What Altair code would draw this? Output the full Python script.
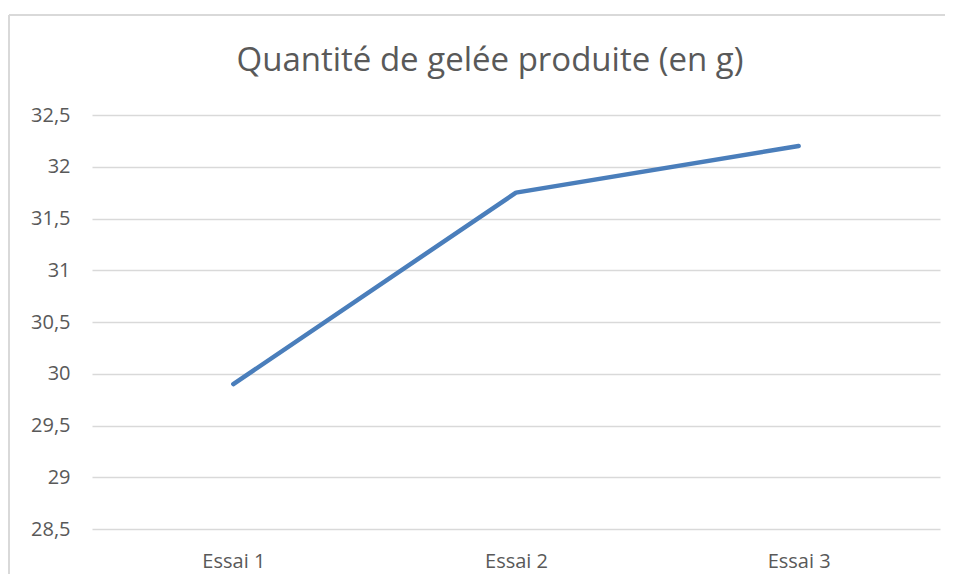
import altair as alt
import pandas as pd

essais = ["Essai 1", "Essai 2", "Essai 3"]
quantites = [29.9, 31.75, 32.2]
y_ticks = [28.5, 29, 29.5, 30, 30.5, 31, 31.5, 32, 32.5]
titre = "Quantité de gelée produite (en g)"

df = pd.DataFrame({"essai": essais, "quantite": quantites})
df_titre = pd.DataFrame({"t": [titre]})

W, H = 848, 414
FONT = "Open Sans"
GREY = "#595959"

line = alt.Chart(df).mark_line(
    color="#4a7ebb", strokeWidth=4.5, strokeCap="round", strokeJoin="round"
).encode(
    x=alt.X("essai:N", sort=essais, title=None,
            scale=alt.Scale(type="point", padding=0.5),
            axis=alt.Axis(labelAngle=0, ticks=False, domain=False, grid=False,
                          labelPadding=22, labelFontSize=20, labelColor=GREY,
                          labelFont=FONT)),
    y=alt.Y("quantite:Q", title=None,
            scale=alt.Scale(domain=[28.5, 32.5], nice=False, zero=False),
            axis=alt.Axis(values=y_ticks, ticks=False, domain=False,
                          grid=True, gridColor="#d9d9d9", gridWidth=1.3,
                          labelPadding=22, labelFontSize=20, labelColor=GREY,
                          labelFont=FONT,
                          labelExpr="replace(format(datum.value, '.1~f'), '.', ',')")),
)

border_left = alt.Chart(df_titre).mark_rule(color="#d9d9d9", strokeWidth=2).encode(
    x=alt.value(-83), y=alt.value(-100), y2=alt.value(H + 80)
)
border_top = alt.Chart(df_titre).mark_rule(color="#d9d9d9", strokeWidth=2).encode(
    y=alt.value(-100), x=alt.value(-83), x2=alt.value(W + 40)
)

title_text = alt.Chart(df_titre).mark_text(
    fontSize=33, font=FONT, color=GREY, align="center", baseline="middle"
).encode(
    text="t:N", x=alt.value(398), y=alt.value(-54)
)

chart = alt.layer(border_left, border_top, title_text, line).properties(
    width=W, height=H,
    padding={"left": 84, "top": 107, "right": 5, "bottom": 45},
    autosize=alt.AutoSizeParams(type="none"),
).configure_view(stroke=None)

chart.save("out.html", embed_options={"renderer": "svg", "actions": False})
